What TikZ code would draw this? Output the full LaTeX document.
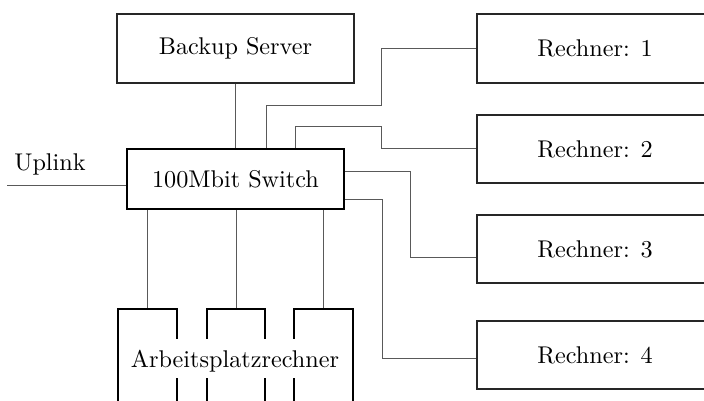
\documentclass[tikz,border=0pt]{standalone}
\usepackage{graphicx}
\usetikzlibrary{calc}
\newcommand{\bigtxt}[1]{\scalebox{2.42}{#1}}
\begin{document}
\begin{tikzpicture}[x=1pt,y=-1pt,
  every node/.style={font=\normalsize},
  box/.style={draw=black!85,line width=1.2pt,inner sep=0pt},
  thickbox/.style={draw=black,line width=2.6pt,inner sep=0pt},
  conn/.style={draw=black!65,line width=1pt}]
\path[use as bounding box,clip] (0,0) rectangle (704,401);
% boxes
\node[box,minimum width=237,minimum height=69] (backup) at (235.5,48.5) {\bigtxt{Backup Server}};
\node[thickbox,minimum width=217,minimum height=60] (switch) at (235.5,179) {\bigtxt{100Mbit Switch}};
\node[box,minimum width=236,minimum height=69] (r1) at (595,48.5) {\bigtxt{Rechner: 1}};
\node[box,minimum width=236,minimum height=68] (r2) at (595,149) {\bigtxt{Rechner: 2}};
\node[box,minimum width=236,minimum height=68] (r3) at (595,249) {\bigtxt{Rechner: 3}};
\node[box,minimum width=236,minimum height=68] (r4) at (595,355) {\bigtxt{Rechner: 4}};
\node[thickbox,minimum width=59,minimum height=120] (ws1) at (147.5,369) {};
\node[thickbox,minimum width=58,minimum height=120] (ws2) at (236,369) {};
\node[thickbox,minimum width=59,minimum height=120] (ws3) at (323.5,369) {};
\node[fill=white,anchor=base,text height=20pt,text depth=3pt,inner ysep=8pt,inner xsep=10pt] (wslabel) at (235,367) {\bigtxt{Arbeitsplatzrechner}};
\node[anchor=base,inner sep=0pt] (uplinktext) at (50,170) {\bigtxt{Uplink}};
% connectors
\coordinate (up) at (7,185);
\draw[conn] (up) -- (up -| switch.west);
\draw[conn] (backup.south) -- (backup.south |- switch.north);
\draw[conn] ([xshift=30.5pt]switch.north) |- (381,106) |- (r1.west);
\draw[conn] ([xshift=59.5pt]switch.north) |- (381,127) |- (r2.west);
\draw[conn] ([yshift=8pt]switch.east) -| (410,257) -- ([yshift=-8pt]r3.west);
\draw[conn] ([yshift=-20pt]switch.east) -| (382,358) -- ([yshift=-3pt]r4.west);
\draw[conn] (switch.south -| ws1.north) -- (ws1.north);
\draw[conn] (switch.south -| ws2.north) -- (ws2.north);
\draw[conn] (switch.south -| ws3.north) -- (ws3.north);
\end{tikzpicture}
\end{document}
